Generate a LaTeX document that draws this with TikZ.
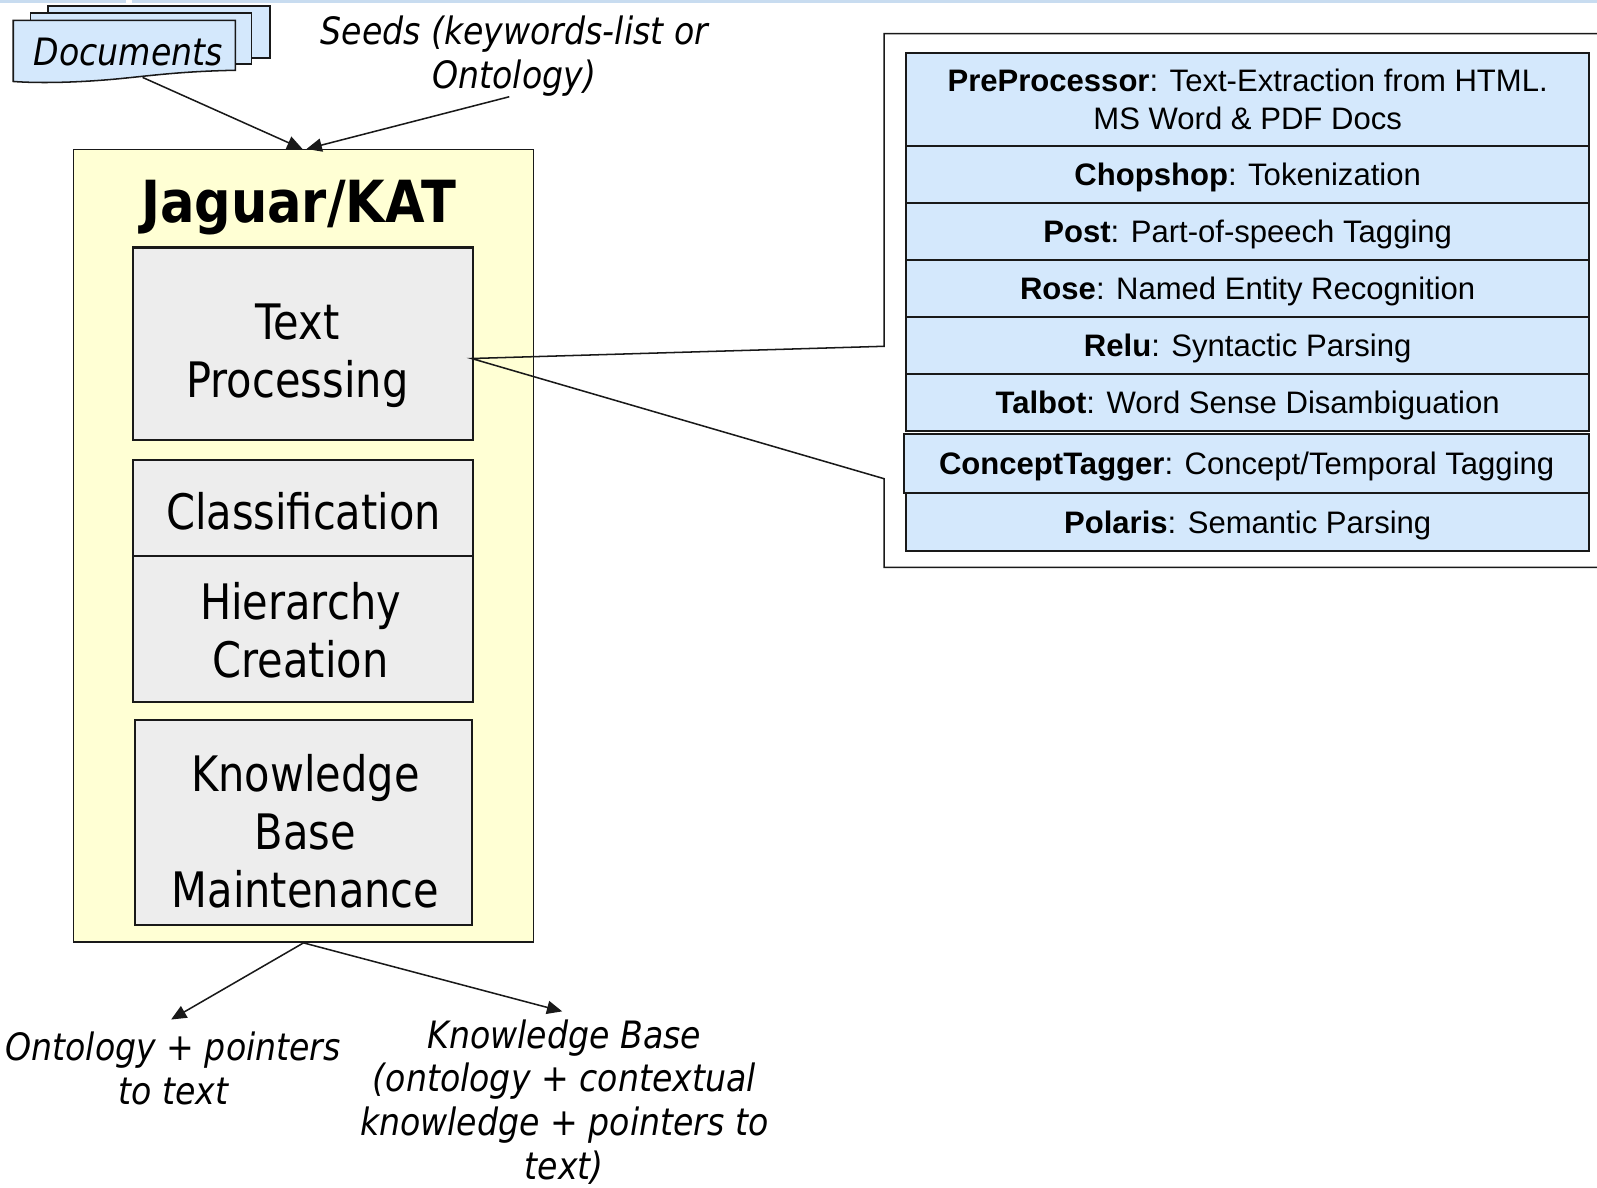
\documentclass[tikz,border=0pt]{standalone}
\usepackage{fontspec}
\setmainfont{DejaVu Sans}[FakeStretch=0.88]
\newfontfamily\boxf{DejaVu Sans}[FakeStretch=0.85]
\newfontfamily\arialf{Liberation Sans}
\usetikzlibrary{arrows.meta,calc}
\definecolor{kyellow}{RGB}{255,255,212}
\definecolor{kgray}{RGB}{237,237,237}
\definecolor{kblue}{RGB}{212,232,252}
\definecolor{kline}{RGB}{25,25,25}
\definecolor{kstrip}{RGB}{200,220,240}
\tikzset{
  yellowbox/.style={draw=kline,fill=kyellow,line width=1.5pt,inner sep=0pt},
  graybox/.style={draw=kline,fill=kgray,line width=2pt,inner sep=0pt},
  boxtext/.style={align=center,inner sep=0pt,font=\boxf\fontsize{48}{57}\selectfont},
  rowbox/.style={draw=kline,fill=kblue,line width=2pt,align=center,inner sep=0pt,anchor=north west,minimum width=670pt,font=\arialf\fontsize{30.5}{37}\selectfont},
  onerow/.style={rowbox,text depth=0pt},
  docshape/.style={draw=kline,fill=kblue,line width=1.5pt},
  ilabel/.style={align=center,inner sep=0pt,font=\itshape\fontsize{37}{44}\selectfont},
  arr/.style={draw=kline,line width=1.5pt,-{Triangle[length=15pt,width=13pt]}},
  outline/.style={draw=kline,line width=1.5pt},
}
\begin{document}
\begin{tikzpicture}[x=1pt,y=-1pt]
\useasboundingbox (0,0) rectangle (1568,1166);
% top strip
\fill[kstrip] (0,0) rectangle (124,3);
\fill[kstrip] (130,0) rectangle (1568,3);
% documents stack
\draw[docshape] (47,6) rectangle (265,57);
\draw[docshape] (30,13) rectangle (247,63);
\draw[docshape] (13,20) -- (231,20) -- (231,69) .. controls (180,70) and (150,74) .. (120,77) .. controls (80,81) and (40,82) .. (13,80) -- cycle;
\node[ilabel] (docs) at (126,51) {Documents};
\coordinate (docsout) at (140,76);
% seeds
\node[ilabel] (seeds) at (505,55) {Seeds (keywords-list or\\Ontology)};
\coordinate (seedsout) at (500,95);
% main yellow box
\node[yellowbox,minimum width=452pt,minimum height=778pt] (jag) at (298,536) {};
\node[inner sep=0pt,font=\bfseries\fontsize{57}{64}\selectfont] (title) at (293,204) {Jaguar/KAT};
\node[graybox,minimum width=333pt,minimum height=189pt] (tp) at (297.5,337.5) {};
\node[boxtext] (tptext) at (292,349) {Text\\Processing};
\node[graybox,minimum width=333pt,minimum height=94pt] (cls) at (297.5,499) {};
\node[boxtext] (clstext) at (298,502) {Classification};
\node[graybox,minimum width=333pt,minimum height=143pt] (hier) at (297.5,617.5) {};
\node[boxtext] (hiertext) at (295,619) {Hierarchy\\Creation};
\node[graybox,minimum width=330pt,minimum height=201pt] (kbm) at (298,807.5) {};
\node[boxtext] (kbmtext) at (300,816) {Knowledge\\Base\\Maintenance};
% arrows in
\draw[arr] (docsout) -- ($(jag.north)+(-1,0)$);
\draw[arr] (seedsout) -- ($(jag.north)+(3,0)$);
% outputs
\node[ilabel] (ont) at (170,1049) {Ontology + pointers\\to text};
\node[ilabel,font=\itshape\fontsize{37}{43}\selectfont] (kb) at (554,1082) {Knowledge Base\\(ontology + contextual\\knowledge + pointers to\\text)};
\coordinate (ontin) at (168,1001);
\coordinate (kbin) at (552,993);
\draw[arr] (jag.south) -- (ontin);
\draw[arr] (jag.south) -- (kbin);
% callout
\coordinate (tip) at (463,352);
\draw[outline] (1600,33) -- (868,33) -- (868,340) -- (tip) -- (868,470) -- (868,557) -- (1600,557);
% rows
\node[rowbox,minimum height=91pt] (pre) at (889,51) {\textbf{PreProcessor}: Text-Extraction from HTML.\\MS Word \& PDF Docs};
\node[onerow,minimum height=56pt] (chop) at (889,142) {\textbf{Chopshop}: Tokenization};
\node[onerow,minimum height=56pt] (post) at (889,198) {\textbf{Post}: Part-of-speech Tagging};
\node[onerow,minimum height=56pt] (rose) at (889,254) {\textbf{Rose}: Named Entity Recognition};
\node[onerow,minimum height=56pt] (relu) at (889,310) {\textbf{Relu}: Syntactic Parsing};
\node[onerow,minimum height=56pt] (talbot) at (889,366) {\textbf{Talbot}: Word Sense Disambiguation};
\node[onerow,minimum height=58pt,minimum width=672pt] (ct) at (887,425) {\textbf{ConceptTagger}: Concept/Temporal Tagging};
\node[onerow,minimum height=57pt] (pol) at (889,483) {\textbf{Polaris}: Semantic Parsing};
\end{tikzpicture}
\end{document}
